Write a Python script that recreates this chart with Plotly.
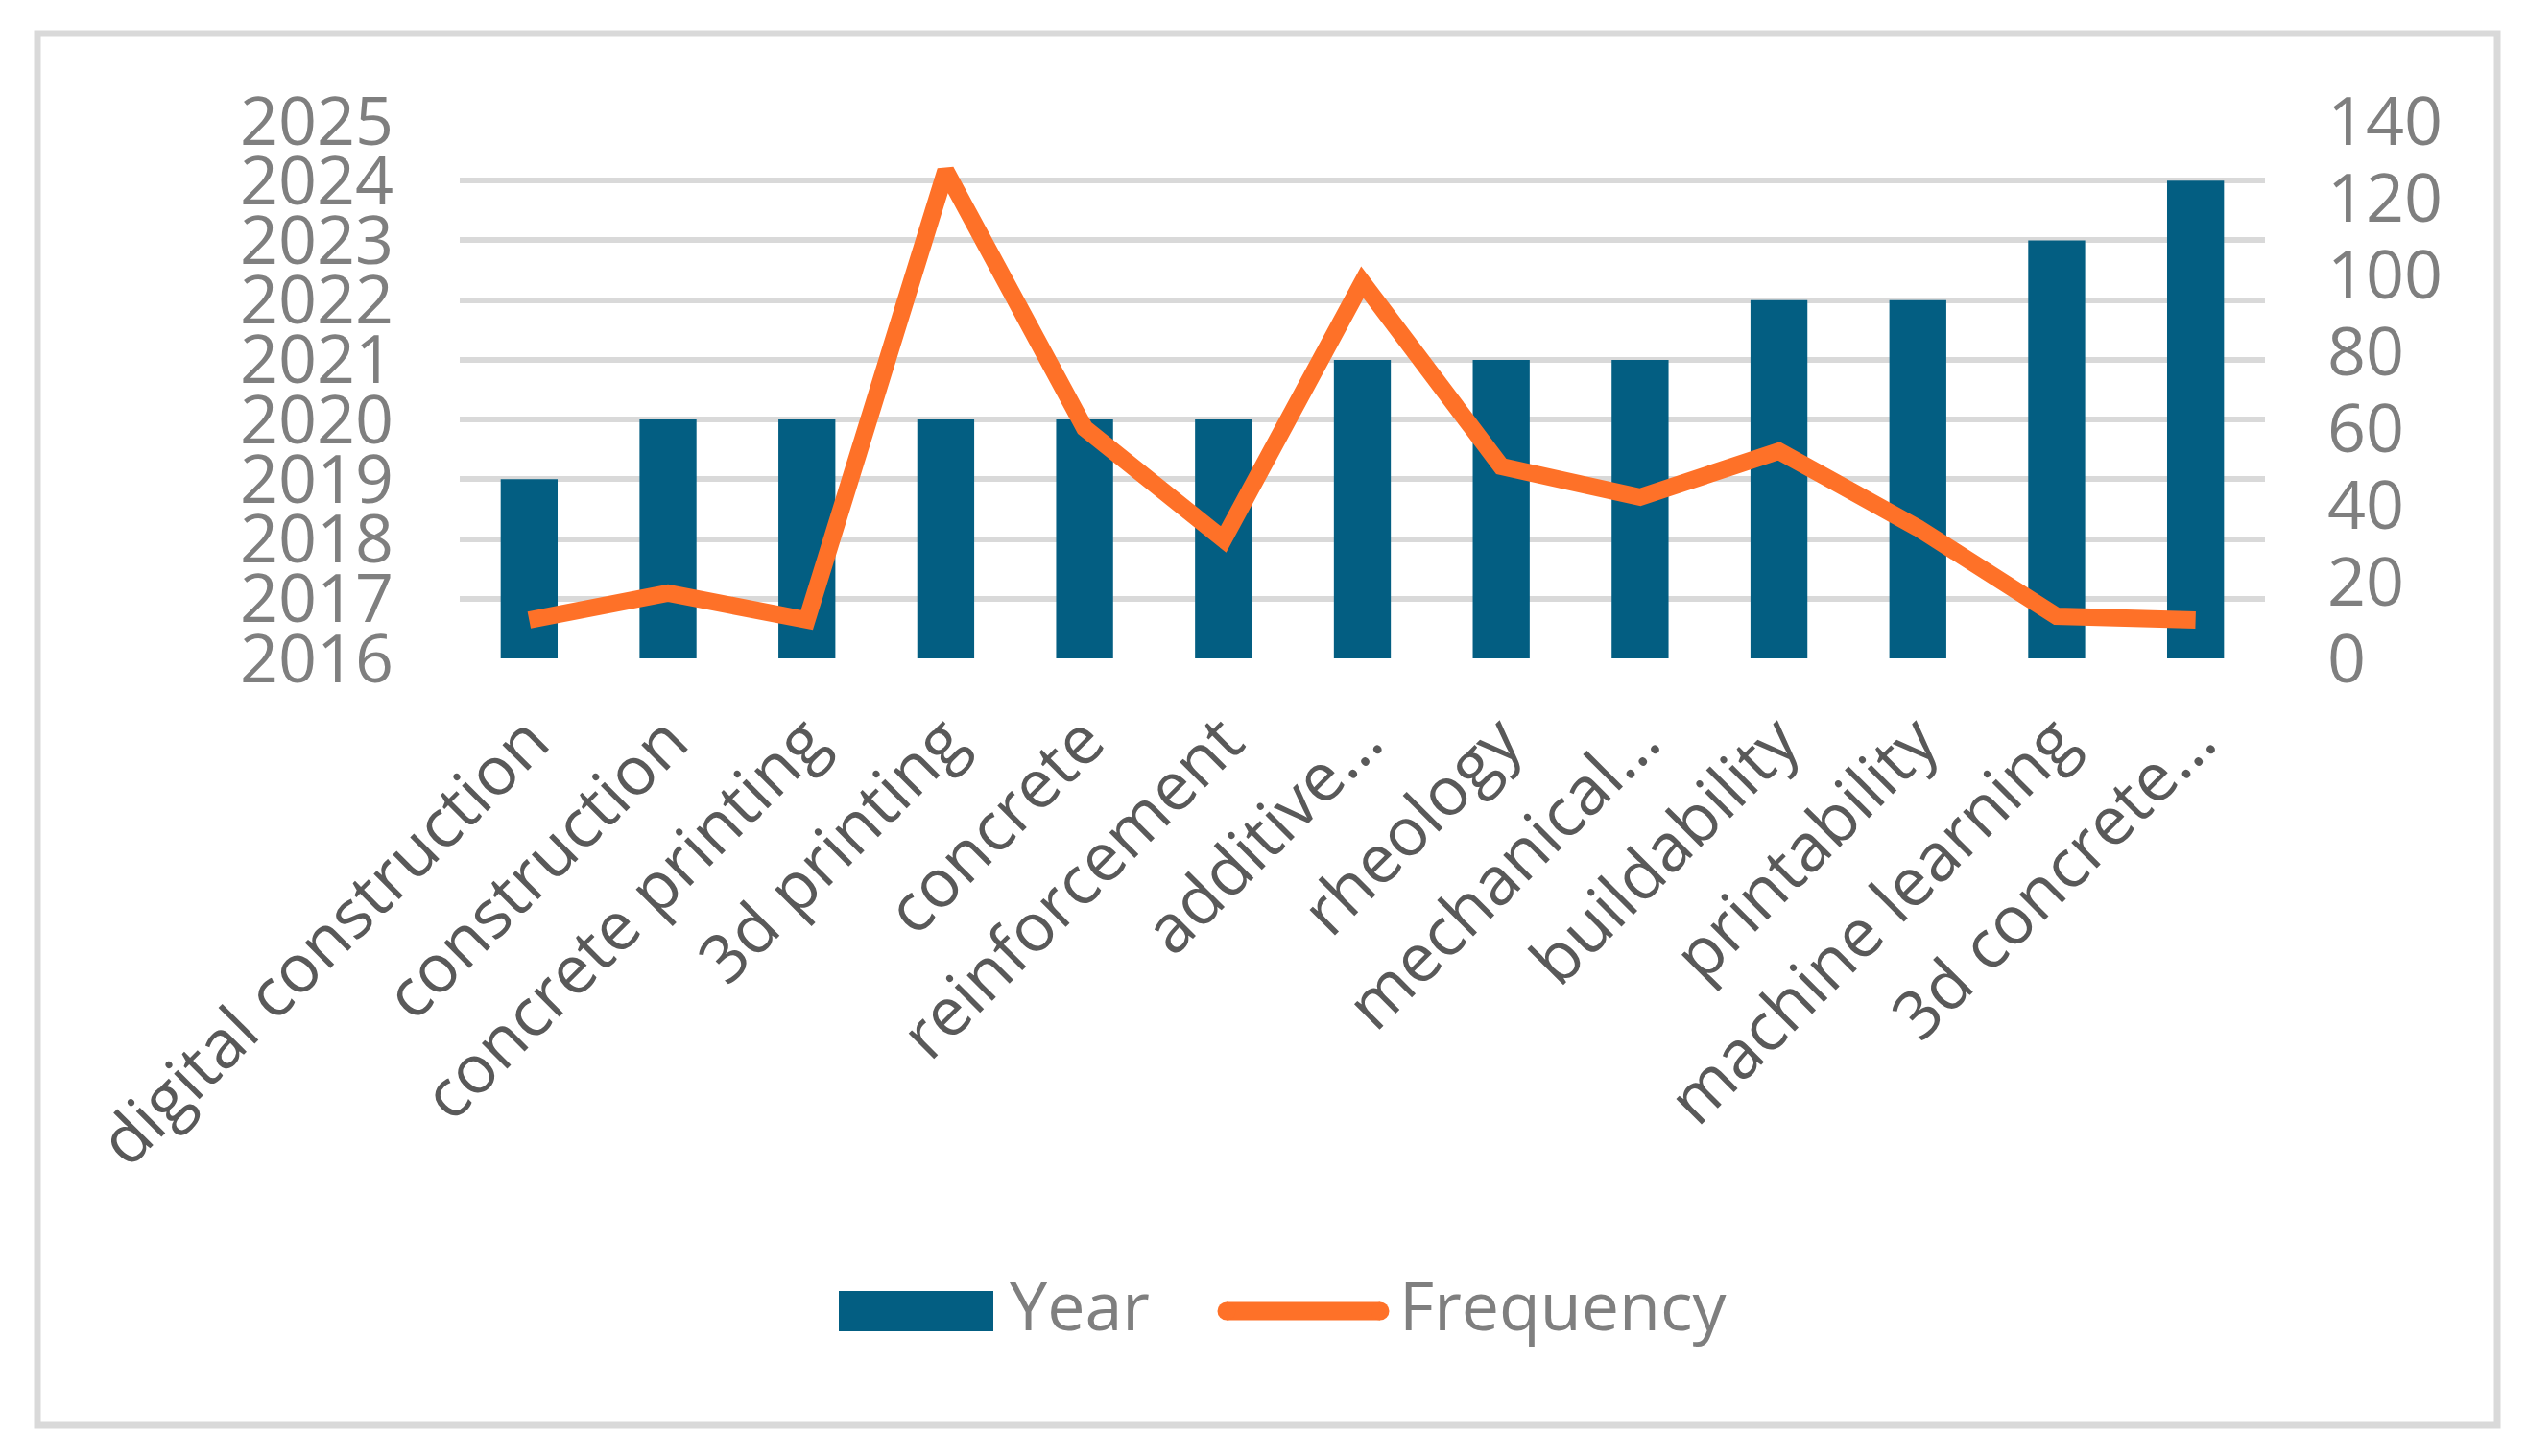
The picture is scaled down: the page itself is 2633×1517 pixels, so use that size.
import plotly.graph_objects as go

categories = ["digital construction", "construction", "concrete printing", "3d printing",
              "concrete", "reinforcement", "additive…", "rheology", "mechanical…",
              "buildability", "printability", "machine learning", "3d concrete…"]
year = [2019, 2020, 2020, 2020, 2020, 2020, 2021, 2021, 2021, 2022, 2022, 2023, 2024]
frequency = [10, 17, 10, 127, 60, 31, 98, 50, 42, 54, 34, 11, 10]
year_ticks = list(range(2016, 2026))
freq_ticks = list(range(0, 141, 20))

# page body has an 8px margin: shrink the figure so it fits the window exactly
OFF = 8
W, H = 2633 - 2 * OFF, 1517 - 2 * OFF
L, R, T, B = 479, 2360, 126, 686   # plot area in page pixels

def px(x):
    return (x - L) / (R - L)

def py(y):
    return (B - y) / (B - T)

BAR = "#035e82"
ORANGE = "#fe7128"
GRAY = "#7f7f7f"
FONT = "Open Sans"

fig = go.Figure()
fig.add_trace(go.Bar(x=categories, y=year, name="Year", marker=dict(color=BAR, line=dict(width=0)),
                     yaxis="y"))
fig.add_trace(go.Scatter(x=categories, y=frequency, name="Frequency", mode="lines",
                         line=dict(color=ORANGE, width=18), yaxis="y2"))

fig.update_layout(
    width=W, height=H,
    margin=dict(l=L - OFF, r=W - (R - OFF), t=T - OFF, b=H - (B - OFF), pad=0),
    paper_bgcolor="white", plot_bgcolor="white",
    showlegend=False,
    bargap=0.59,
    font=dict(family=FONT, color=GRAY),
    xaxis=dict(type="category", showgrid=False, zeroline=False, showline=False, ticks="",
               tickangle=-45, tickfont=dict(family=FONT, size=70, color="#595959"),
               ticklabelstandoff=30),
    yaxis=dict(range=[2016, 2025], tickvals=year_ticks, ticktext=[str(v) for v in year_ticks],
               showgrid=True, gridcolor="#d9d9d9", gridwidth=6, zeroline=False, showline=False,
               ticks="", tickfont=dict(family=FONT, size=70, color=GRAY), ticklabelstandoff=68),
    yaxis2=dict(range=[0, 140], tickvals=freq_ticks, overlaying="y", side="right",
                showgrid=False, zeroline=False, showline=False, ticks="",
                tickfont=dict(family=FONT, size=70, color=GRAY), ticklabelstandoff=64),
)

# chart border
fig.add_shape(type="rect", xref="paper", yref="paper",
              x0=px(39), x1=px(2602), y0=py(1485), y1=py(35),
              line=dict(color="#d9d9d9", width=7), fillcolor="rgba(0,0,0,0)", layer="below")

# custom legend
fig.add_shape(type="rect", xref="paper", yref="paper",
              x0=px(874), x1=px(1035), y0=py(1387), y1=py(1345),
              line=dict(width=0), fillcolor=BAR)
fig.add_shape(type="line", xref="paper", yref="paper",
              x0=px(1278), x1=px(1438), y0=py(1366), y1=py(1366),
              line=dict(color=ORANGE, width=19))
for cx in (1278, 1438):
    fig.add_shape(type="circle", xref="paper", yref="paper",
                  x0=px(cx - 9.5), x1=px(cx + 9.5), y0=py(1375.5), y1=py(1356.5),
                  line=dict(width=0), fillcolor=ORANGE)
fig.add_annotation(xref="paper", yref="paper", x=px(1050), y=py(1359), text="Year",
                   showarrow=False, xanchor="left", yanchor="middle",
                   font=dict(family=FONT, size=70, color=GRAY))
fig.add_annotation(xref="paper", yref="paper", x=px(1456), y=py(1359), text="Frequency",
                   showarrow=False, xanchor="left", yanchor="middle",
                   font=dict(family=FONT, size=70, color=GRAY))

fig.write_html("out.html")
